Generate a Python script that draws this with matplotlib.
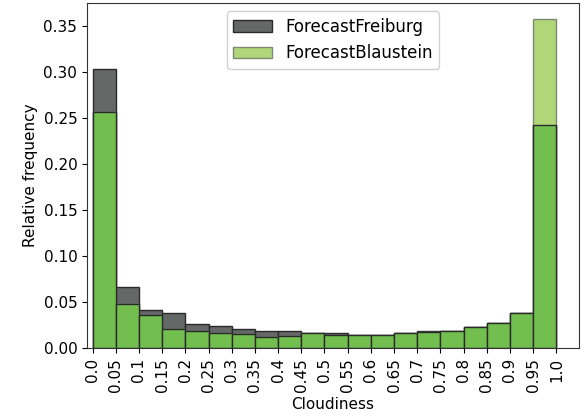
import numpy as np
import matplotlib
matplotlib.use("Agg")
import matplotlib.pyplot as plt

# ------------------------------------------------------------------
# Data (relative frequency per cloudiness bin)
# ------------------------------------------------------------------
bin_edges = np.round(np.arange(0, 1.0001, 0.05), 2)
tick_labels = ["0.0", "0.05", "0.1", "0.15", "0.2", "0.25", "0.3", "0.35", "0.4",
               "0.45", "0.5", "0.55", "0.6", "0.65", "0.7", "0.75", "0.8",
               "0.85", "0.9", "0.95", "1.0"]

freiburg = [0.303, 0.066, 0.042, 0.038, 0.026, 0.024, 0.021, 0.019, 0.019, 0.016,
            0.017, 0.0138, 0.0138, 0.016, 0.019, 0.019, 0.0225, 0.027, 0.038, 0.242]
blaustein = [0.256, 0.0485, 0.0364, 0.0205, 0.019, 0.0168, 0.015, 0.0118, 0.0136, 0.0164,
             0.0138, 0.0142, 0.0142, 0.0162, 0.0172, 0.019, 0.0227, 0.0273, 0.0382, 0.357]

# ------------------------------------------------------------------
# Plot
# ------------------------------------------------------------------
fig = plt.figure(figsize=(5.88, 4.18), dpi=100)
ax = fig.add_axes([0.148, 0.167, 0.836, 0.826])

left = bin_edges[:-1]
w = 0.05
ax.bar(left, freiburg, width=w, align="edge", color="#646866",
       edgecolor="#2a2a2a", linewidth=1.0, label="ForecastFreiburg")
ax.bar(left, blaustein, width=w, align="edge", color="#b1d67a",
       edgecolor="#7d8a72", linewidth=1.0, label="ForecastBlaustein")
# overlapping part of both histograms
ax.bar(left, np.minimum(freiburg, blaustein), width=w, align="edge",
       color="#72bf4f", edgecolor="#2a2a2a", linewidth=1.0)

ax.set_xlim(-0.012, 1.048)
ax.set_ylim(0, 0.375)
ax.set_xticks(bin_edges)
ax.set_xticklabels(tick_labels, rotation=90)
ax.set_yticks(np.arange(0, 0.36, 0.05))
ax.tick_params(labelsize=11)
ax.set_xlabel("Cloudiness", fontsize=11)
ax.set_ylabel("Relative frequency", fontsize=11)

leg = ax.legend(loc="upper center", fontsize=12, framealpha=0.9,
                handlelength=2.3)

for s in ax.spines.values():
    s.set_color("#333333")

fig.savefig("out.png", dpi=100)
